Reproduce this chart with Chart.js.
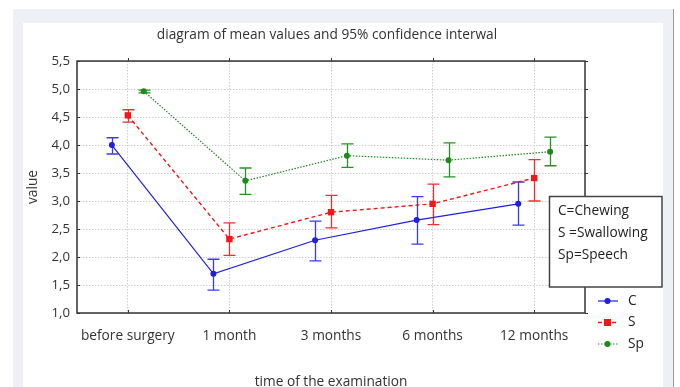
<!DOCTYPE html>
<html>
<head>
<meta charset="utf-8">
<script src="https://cdn.jsdelivr.net/npm/chart.js@4.4.1/dist/chart.umd.min.js"></script>
<style>
  body { margin: 0; width: 680px; height: 387px; overflow: hidden; background: #fff; position: relative; }
  #panel { position: absolute; left: 13px; top: 9px; width: 660px; height: 400px; background: #eef0f5; border-right: 1px solid #9a9a9a; }
  #inner { position: absolute; left: 23px; top: 23px; width: 640px; height: 400px; background: #fff; }
  #wrap { position: absolute; left: 0; top: 0; }
</style>
</head>
<body>
<div id="panel"></div>
<div id="inner"></div>
<div id="wrap"><canvas id="myChart" width="680" height="400"></canvas></div>
<script>
const categorias = ['before surgery', '1 month', '3 months', '6 months', '12 months'];
const yTicks = [1.0, 1.5, 2.0, 2.5, 3.0, 3.5, 4.0, 4.5, 5.0, 5.5];

const nombres = ['C', 'S', 'Sp'];
const notas = ['C=Chewing', 'S =Swallowing', 'Sp=Speech'];

const mediaC = [4.00, 1.70, 2.30, 2.66, 2.95];
const altoC  = [4.13, 1.96, 2.64, 3.08, 3.34];
const bajoC  = [3.84, 1.41, 1.93, 2.23, 2.57];

const mediaS = [4.53, 2.32, 2.80, 2.95, 3.41];
const altoS  = [4.63, 2.61, 3.10, 3.30, 3.74];
const bajoS  = [4.41, 2.03, 2.52, 2.58, 3.00];

const mediaSp = [4.96, 3.36, 3.81, 3.73, 3.88];
const altoSp  = [4.98, 3.59, 4.02, 4.04, 4.14];
const bajoSp  = [4.93, 3.12, 3.60, 3.43, 3.63];

// horizontal shift of each series inside a category (in category units)
const desplazamiento = [-0.157, 0, 0.157];

const fuente = 'Open Sans';

function puntos(valores, k) {
  return valores.map((v, i) => ({ x: i + desplazamiento[k], y: v }));
}

const barrasError = {
  id: 'barrasError',
  beforeDatasetsDraw(chart) {
    const ctx = chart.ctx;
    const xs = chart.scales.x, ys = chart.scales.y;
    chart.data.datasets.forEach((ds, k) => {
      ctx.save();
      ctx.strokeStyle = ds.barColor;
      ctx.lineWidth = 1.3;
      ds.altos.forEach((alto, i) => {
        const px = Math.round(xs.getPixelForValue(i + desplazamiento[k])) + 0.5;
        const y1 = ys.getPixelForValue(alto);
        const y2 = ys.getPixelForValue(ds.bajos[i]);
        ctx.beginPath();
        ctx.moveTo(px, y1); ctx.lineTo(px, y2);
        ctx.moveTo(px - 6, y1); ctx.lineTo(px + 6, y1);
        ctx.moveTo(px - 6, y2); ctx.lineTo(px + 6, y2);
        ctx.stroke();
      });
      ctx.restore();
    });
  }
};

const marcoYLeyenda = {
  id: 'marcoYLeyenda',
  afterDraw(chart) {
    const ctx = chart.ctx;
    const a = chart.chartArea;
    const xs = chart.scales.x, ys = chart.scales.y;
    ctx.save();
    ctx.strokeStyle = '#333';
    ctx.lineWidth = 1.5;
    ctx.strokeRect(a.left, a.top, a.right - a.left, a.bottom - a.top);
    ctx.lineWidth = 1;
    ctx.beginPath();
    yTicks.forEach(t => {
      const py = Math.round(ys.getPixelForValue(t)) + 0.5;
      ctx.moveTo(a.right, py); ctx.lineTo(a.right + 3, py);
      ctx.moveTo(a.left, py); ctx.lineTo(a.left + 3, py);
    });
    categorias.forEach((c, i) => {
      const px = Math.round(xs.getPixelForValue(i)) + 0.5;
      ctx.moveTo(px, a.top); ctx.lineTo(px, a.top - 3);
      ctx.moveTo(px, a.bottom); ctx.lineTo(px, a.bottom - 3);
    });
    ctx.stroke();

    // caja con las notas
    ctx.fillStyle = '#fff';
    ctx.fillRect(549, 196, 113, 91);
    ctx.strokeStyle = '#444';
    ctx.lineWidth = 1.5;
    ctx.strokeRect(549.5, 196.5, 112.5, 90.5);
    ctx.fillStyle = '#222';
    ctx.font = '13.7px "' + fuente + '"';
    ctx.textBaseline = 'middle';
    notas.forEach((n, i) => ctx.fillText(n, 558, 211 + i * 22.3));

    // leyenda de las series
    chart.data.datasets.forEach((ds, k) => {
      const y = 301 + k * 21.5;
      ctx.strokeStyle = ds.borderColor;
      ctx.lineWidth = ds.borderWidth;
      ctx.setLineDash(ds.borderDash || []);
      ctx.beginPath();
      ctx.moveTo(598, y); ctx.lineTo(618, y);
      ctx.stroke();
      ctx.setLineDash([]);
      ctx.fillStyle = ds.borderColor;
      if (ds.pointStyle === 'rect') {
        ctx.fillRect(604, y - 3.5, 7, 7);
      } else {
        ctx.beginPath(); ctx.arc(607.5, y, 3, 0, Math.PI * 2); ctx.fill();
      }
      ctx.fillStyle = '#222';
      ctx.font = '13.7px "' + fuente + '"';
      ctx.fillText(nombres[k], 628, y);
    });
    ctx.restore();
  }
};

const ctx = document.getElementById('myChart').getContext('2d');
const myChart = new Chart(ctx, {
  type: 'line',
  data: {
    datasets: [{
      label: nombres[0],
      data: puntos(mediaC, 0),
      altos: altoC, bajos: bajoC,
      borderColor: '#1f1fe0',
      barColor: '#3a3af0',
      backgroundColor: '#1f1fe0',
      borderWidth: 1.2,
      pointStyle: 'circle',
      pointRadius: 3,
      pointBorderWidth: 0
    }, {
      label: nombres[1],
      data: puntos(mediaS, 1),
      altos: altoS, bajos: bajoS,
      borderColor: '#f01818',
      barColor: '#f03030',
      backgroundColor: '#f01818',
      borderWidth: 1.4,
      borderDash: [4, 3],
      pointStyle: 'rect',
      pointRadius: 4.5,
      pointBorderWidth: 0
    }, {
      label: nombres[2],
      data: puntos(mediaSp, 2),
      altos: altoSp, bajos: bajoSp,
      borderColor: '#1e8a1e',
      barColor: '#259225',
      backgroundColor: '#1e8a1e',
      borderWidth: 1.2,
      borderDash: [1.5, 1.5],
      pointStyle: 'circle',
      pointRadius: 3,
      pointBorderWidth: 0
    }]
  },
  options: {
    responsive: false,
    animation: false,
    devicePixelRatio: 1,
    layout: { padding: { left: 23, right: 49, top: 0, bottom: 0 } },
    plugins: {
      legend: { display: false },
      tooltip: { enabled: false },
      title: {
        display: true,
        text: 'diagram of mean values and 95% confidence interwal',
        color: '#333',
        font: { family: fuente, size: 13.7, weight: 'normal' },
        padding: { top: 27, bottom: 17.6 }
      }
    },
    scales: {
      x: {
        type: 'linear',
        min: -0.5,
        max: 4.5,
        afterBuildTicks: (scale) => { scale.ticks = categorias.map((c, i) => ({ value: i })); },
        afterFit: (scale) => { scale.height = 87; },
        ticks: {
          padding: 15,
          color: '#333',
          font: { family: fuente, size: 13.7 },
          callback: (v) => categorias[v]
        },
        grid: { color: '#cfcfcf', drawTicks: false },
        border: { display: false, dash: [1.5, 1.5] },
        title: {
          display: true,
          text: 'time of the examination',
          color: '#333',
          font: { family: fuente, size: 13.7 },
          padding: { top: 0, bottom: 10 }
        }
      },
      y: {
        min: 1,
        max: 5.5,
        afterBuildTicks: (scale) => { scale.ticks = yTicks.map(v => ({ value: v })); },
        afterFit: (scale) => { scale.width = 54; },
        ticks: {
          padding: 7,
          color: '#333',
          font: { family: fuente, size: 13.2 },
          callback: (v) => v.toFixed(1).replace('.', ',')
        },
        grid: { color: '#cfcfcf', drawTicks: false },
        border: { display: false, dash: [1.5, 1.5] },
        title: {
          display: true,
          text: 'value',
          color: '#333',
          font: { family: fuente, size: 13.7 },
          padding: { top: 2, bottom: 0 }
        }
      },
      derecha: {
        type: 'linear',
        position: 'right',
        grid: { display: false },
        border: { display: false },
        ticks: { display: false },
        afterFit: (scale) => { scale.width = 46; }
      }
    }
  },
  plugins: [barrasError, marcoYLeyenda]
});
</script>
</body>
</html>
